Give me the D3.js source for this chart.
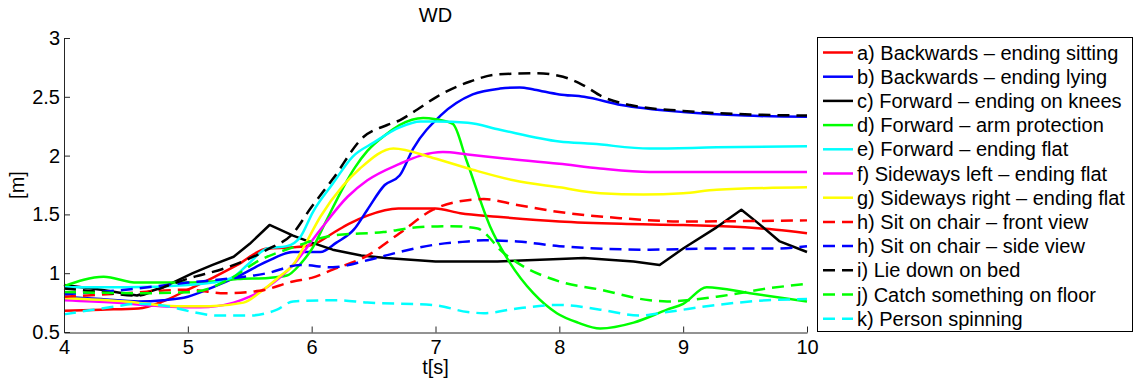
<!DOCTYPE html>
<html><head><meta charset="utf-8">
<script src="https://cdn.jsdelivr.net/npm/d3@7"></script>
<style>
html,body{margin:0;padding:0;background:#fff;}
svg{display:block;font-family:"Liberation Sans",Arial,Helvetica,sans-serif;}
</style></head>
<body>
<svg id="chart" width="1138" height="383"></svg>
<script>
// ---------- data ----------
const title = "WD";
const xLabel = "t[s]";
const yLabel = "[m]";
const xTicks = [4, 5, 6, 7, 8, 9, 10];
const yTicks = [0.5, 1, 1.5, 2, 2.5, 3];
const yTickLabels = ["0.5", "1", "1.5", "2", "2.5", "3"];

const names = [
  "a) Backwards \u2013 ending sitting",
  "b) Backwards \u2013 ending lying",
  "c) Forward \u2013 ending on knees",
  "d) Forward \u2013 arm protection",
  "e) Forward \u2013 ending flat",
  "f) Sideways left \u2013 ending flat",
  "g) Sideways right \u2013 ending flat",
  "h) Sit on chair \u2013 front view",
  "h) Sit on chair \u2013 side view",
  "i) Lie down on bed",
  "j) Catch something on floor",
  "k) Person spinning"
];

const tA = [4, 4.3, 4.6, 4.8, 5.0, 5.2, 5.4, 5.64, 5.85, 6.0, 6.17, 6.3, 6.45, 6.7, 7.0, 7.2, 7.5, 8.0, 8.5, 9.0, 9.5, 9.75, 10];
const vA = [0.68, 0.69, 0.70, 0.76, 0.86, 0.96, 1.07, 1.21, 1.22, 1.24, 1.34, 1.42, 1.49, 1.55, 1.55, 1.51, 1.48, 1.44, 1.42, 1.41, 1.39, 1.37, 1.34];

const tB = [4, 4.3, 4.6, 4.8, 5.0, 5.2, 5.4, 5.64, 5.85, 6.07, 6.2, 6.34, 6.45, 6.59, 6.71, 6.82, 7.04, 7.3, 7.52, 7.68, 7.8, 8.0, 8.2, 8.5, 9.0, 9.5, 10];
const vB = [0.80, 0.78, 0.76, 0.77, 0.80, 0.88, 0.97, 1.10, 1.18, 1.18, 1.26, 1.37, 1.54, 1.75, 1.83, 2.06, 2.34, 2.52, 2.57, 2.58, 2.56, 2.52, 2.50, 2.43, 2.37, 2.34, 2.33];

const tC = [4, 4.3, 4.59, 4.8, 5.04, 5.2, 5.37, 5.5, 5.66, 5.85, 6.0, 6.17, 6.4, 6.6, 7.0, 7.5, 8.0, 8.2, 8.6, 8.81, 9.0, 9.27, 9.47, 9.6, 9.78, 10];
const vC = [0.90, 0.86, 0.81, 0.88, 1.00, 1.07, 1.14, 1.25, 1.41, 1.32, 1.26, 1.20, 1.15, 1.13, 1.10, 1.10, 1.12, 1.13, 1.10, 1.07, 1.21, 1.39, 1.54, 1.43, 1.27, 1.18];

const tD = [4, 4.32, 4.59, 4.88, 5.2, 5.4, 5.65, 5.8, 5.91, 6.01, 6.12, 6.25, 6.35, 6.45, 6.6, 6.71, 6.9, 7.0, 7.14, 7.25, 7.44, 7.6, 7.79, 7.98, 8.15, 8.33, 8.6, 8.87, 9.0, 9.19, 9.54, 10];
const vD = [0.89, 0.97, 0.92, 0.92, 0.93, 0.95, 0.96, 0.98, 1.08, 1.22, 1.45, 1.72, 1.90, 2.04, 2.18, 2.26, 2.32, 2.31, 2.27, 1.96, 1.40, 1.09, 0.83, 0.66, 0.58, 0.53, 0.58, 0.69, 0.74, 0.88, 0.83, 0.76];

const tE = [4, 4.5, 5.0, 5.2, 5.37, 5.48, 5.64, 5.8, 5.91, 6.01, 6.17, 6.33, 6.5, 6.71, 6.88, 7.0, 7.26, 7.52, 8.0, 8.27, 8.73, 9.27, 10];
const vE = [0.88, 0.88, 0.90, 0.92, 0.97, 1.07, 1.21, 1.23, 1.31, 1.52, 1.76, 1.99, 2.11, 2.24, 2.29, 2.29, 2.28, 2.22, 2.12, 2.10, 2.06, 2.07, 2.08];

const tF = [4, 4.4, 4.78, 5.1, 5.37, 5.5, 5.64, 5.85, 6.07, 6.29, 6.45, 6.71, 6.88, 7.06, 7.26, 7.52, 8.0, 8.33, 8.73, 9.27, 10];
const vF = [0.77, 0.75, 0.72, 0.71, 0.75, 0.80, 0.88, 1.07, 1.37, 1.65, 1.79, 1.93, 2.00, 2.03, 2.01, 1.98, 1.93, 1.89, 1.86, 1.86, 1.86];

const tG = [4, 4.5, 4.91, 5.18, 5.45, 5.61, 5.75, 5.85, 5.95, 6.07, 6.25, 6.39, 6.66, 6.98, 7.3, 7.63, 8.0, 8.33, 8.68, 9.0, 9.27, 10];
const vG = [0.79, 0.76, 0.72, 0.72, 0.75, 0.86, 0.98, 1.07, 1.25, 1.48, 1.74, 1.89, 2.06, 1.98, 1.88, 1.79, 1.73, 1.68, 1.67, 1.68, 1.71, 1.73];

const tH = [4, 4.5, 5.0, 5.3, 5.58, 5.85, 6.0, 6.17, 6.45, 6.71, 6.98, 7.14, 7.39, 7.66, 8.0, 8.47, 9.0, 10];
const vH = [0.80, 0.83, 0.86, 0.83, 0.85, 0.93, 0.96, 1.03, 1.15, 1.34, 1.54, 1.60, 1.63, 1.58, 1.52, 1.47, 1.44, 1.45];

const tH2 = [4, 4.5, 5.0, 5.3, 5.64, 5.91, 6.17, 6.45, 6.71, 6.98, 7.26, 7.39, 7.66, 8.0, 8.73, 9.27, 9.76, 10];
const vH2 = [0.82, 0.86, 0.92, 0.95, 1.00, 1.07, 1.05, 1.11, 1.18, 1.24, 1.27, 1.28, 1.27, 1.23, 1.20, 1.21, 1.21, 1.23];

const tI = [4, 4.3, 4.59, 4.8, 4.99, 5.32, 5.64, 5.85, 5.99, 6.17, 6.42, 6.61, 6.71, 6.85, 7.01, 7.28, 7.5, 7.82, 8.03, 8.19, 8.35, 8.57, 9.0, 9.54, 10];
const vI = [0.87, 0.84, 0.81, 0.88, 0.95, 1.05, 1.20, 1.34, 1.55, 1.80, 2.16, 2.26, 2.30, 2.39, 2.50, 2.63, 2.69, 2.70, 2.67, 2.60, 2.50, 2.43, 2.38, 2.35, 2.34];

const tJ = [4, 4.64, 5.04, 5.32, 5.58, 5.85, 6.17, 6.58, 6.85, 7.12, 7.34, 7.42, 7.52, 7.66, 8.0, 8.33, 8.73, 8.87, 9.27, 9.68, 10];
const vJ = [0.84, 0.83, 0.84, 0.94, 1.11, 1.22, 1.32, 1.35, 1.39, 1.40, 1.38, 1.32, 1.20, 1.09, 0.93, 0.86, 0.77, 0.76, 0.80, 0.87, 0.91];

const tK = [4, 4.37, 4.6, 4.83, 5.04, 5.23, 5.5, 5.72, 5.85, 6.2, 6.45, 6.98, 7.26, 7.39, 7.66, 8.0, 8.33, 8.65, 8.87, 9.27, 9.68, 10];
const vK = [0.65, 0.71, 0.74, 0.72, 0.67, 0.64, 0.64, 0.69, 0.76, 0.77, 0.75, 0.73, 0.67, 0.66, 0.70, 0.73, 0.69, 0.64, 0.67, 0.73, 0.77, 0.78];

const seriesT = [tA, tB, tC, tD, tE, tF, tG, tH, tH2, tI, tJ, tK];
const seriesV = [vA, vB, vC, vD, vE, vF, vG, vH, vH2, vI, vJ, vK];

// ---------- styles ----------
const colors = ["#ff0000", "#0000ff", "#000000", "#00ff00", "#00ffff", "#ff00ff", "#ffff00",
                "#ff0000", "#0000ff", "#000000", "#00ff00", "#00ffff"];
const dashed = [false, false, false, false, false, false, false, true, true, true, true, true];
const linear = [false, false, true, false, false, false, false, false, false, false, false, false];

// ---------- layout ----------
const svg = d3.select("#chart");
const m = {left: 64, right: 807, top: 38, bottom: 332};
const x = d3.scaleLinear().domain([4, 10]).range([m.left, m.right]);
const y = d3.scaleLinear().domain([0.5, 3]).range([m.bottom, m.top]);
const FS = 20;

// lines
const g = svg.append("g");
seriesT.forEach((ts, i) => {
  const pts = ts.map((t, j) => [t, seriesV[i][j]]);
  const line = d3.line().x(d => x(d[0])).y(d => y(d[1]))
    .curve(linear[i] ? d3.curveLinear : d3.curveMonotoneX);
  g.append("path").datum(pts)
    .attr("d", line)
    .attr("fill", "none")
    .attr("stroke", colors[i])
    .attr("stroke-width", 2.5)
    .attr("stroke-linejoin", "round")
    .attr("stroke-dasharray", dashed[i] ? "12,7" : null);
});

// axes (ticks inward)
const axisColor = "#262626";
const xAxis = d3.axisBottom(x).tickValues(xTicks).tickSizeInner(-6).tickSizeOuter(0).tickPadding(7).tickFormat(d3.format("d"));
const gx = svg.append("g").attr("transform", `translate(0,${m.bottom + 0.5})`).call(xAxis);
const yAxis = d3.axisLeft(y).tickValues(yTicks).tickSizeInner(-6).tickSizeOuter(0).tickPadding(10)
  .tickFormat((d, i) => yTickLabels[i]);
const gy = svg.append("g").attr("transform", `translate(${m.left},0)`).call(yAxis);
[gx, gy].forEach(a => {
  a.select(".domain").attr("stroke", axisColor);
  a.selectAll(".tick line").attr("stroke", axisColor);
  a.selectAll(".tick text").attr("fill", "#000").style("font-size", FS + "px")
    .style("font-family", "'Liberation Sans', Arial, sans-serif");
});
gy.selectAll(".tick text").attr("x", -4);

// title and labels
svg.append("text").attr("x", (m.left + m.right) / 2).attr("y", 22)
  .attr("text-anchor", "middle").style("font-size", FS + "px").text(title);
svg.append("text").attr("x", (m.left + m.right) / 2).attr("y", 374)
  .attr("text-anchor", "middle").style("font-size", FS + "px").text(xLabel);
svg.append("text").attr("transform", `translate(24,${(m.top + m.bottom) / 2}) rotate(-90)`)
  .attr("text-anchor", "middle").style("font-size", FS + "px").text(yLabel);

// legend
const lg = svg.append("g");
lg.append("rect").attr("x", 817.5).attr("y", 37.5).attr("width", 315).attr("height", 294)
  .attr("fill", "#fff").attr("stroke", "#000").attr("stroke-width", 1);
names.forEach((n, i) => {
  const cy = 52.5 + i * 24.2;
  lg.append("line").attr("x1", 823).attr("x2", 853).attr("y1", cy).attr("y2", cy)
    .attr("stroke", colors[i]).attr("stroke-width", 2.5)
    .attr("stroke-dasharray", dashed[i] ? "12,7" : null);
  lg.append("text").attr("x", 857).attr("y", cy).attr("dy", "0.35em")
    .style("font-size", FS + "px").text(n);
});
</script>
</body></html>
